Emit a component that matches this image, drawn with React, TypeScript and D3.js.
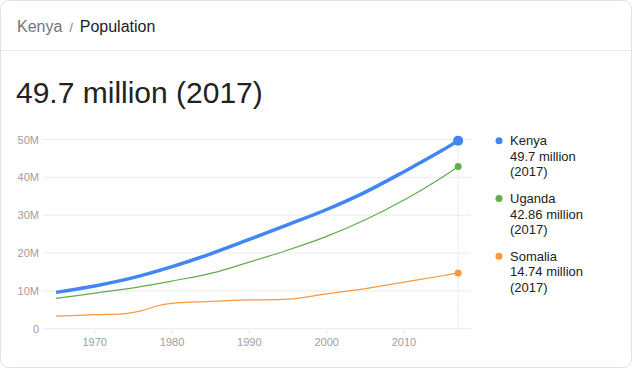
import React from 'react';
import * as d3 from 'd3';

const kenyaYears = [1965, 1970, 1975, 1980, 1985, 1990, 1995, 2000, 2005, 2010, 2015, 2017];
const kenyaValues = [9.6, 11.3, 13.5, 16.4, 19.8, 23.6, 27.5, 31.5, 36.1, 41.5, 47.2, 49.7];

const ugandaYears = [1965, 1970, 1975, 1980, 1985, 1990, 1995, 2000, 2005, 2010, 2015, 2017];
const ugandaValues = [8.0, 9.4, 10.8, 12.6, 14.6, 17.6, 20.8, 24.4, 28.8, 34.0, 40.1, 42.86];

const somaliaYears = [1965, 1970, 1974, 1976, 1978, 1980, 1985, 1990, 1995, 2000, 2005, 2010, 2015, 2017];
const somaliaValues = [3.3, 3.7, 4.0, 4.7, 6.0, 6.7, 7.2, 7.6, 7.8, 9.2, 10.6, 12.3, 14.0, 14.74];

const yTicks = [0, 10, 20, 30, 40, 50];
const xTicks = [1970, 1980, 1990, 2000, 2010];

const series = [
  { name: 'Kenya', value: '49.7 million', year: '(2017)', color: '#4285f4', years: kenyaYears, values: kenyaValues, width: 3.5, r: 5 },
  { name: 'Uganda', value: '42.86 million', year: '(2017)', color: '#5fad4e', years: ugandaYears, values: ugandaValues, width: 1.2, r: 3.5 },
  { name: 'Somalia', value: '14.74 million', year: '(2017)', color: '#fa9a3c', years: somaliaYears, values: somaliaValues, width: 1.2, r: 3.5 },
];

const font = 'Arial, "Liberation Sans", sans-serif';

function App() {
  const x = d3.scaleLinear().domain([1970, 2010]).range([94.7, 404]);
  const y = d3.scaleLinear().domain([0, 50]).range([328.7, 139.5]);
  const left = 43;
  const right = 471;
  const lastX = x(2017);

  const line = d3
    .line<[number, number]>()
    .x((d) => x(d[0]))
    .y((d) => y(d[1]))
    .curve(d3.curveCatmullRom.alpha(0.5));

  return (
    <svg width={633} height={370} style={{ position: 'absolute', left: 0, top: 0, fontFamily: font }}>
      <rect x={0.5} y={0.5} width={631} height={367} rx={8} fill="#fff" stroke="#dfe1e5" />
      <line x1={1} x2={632} y1={50.5} y2={50.5} stroke="#ebebeb" />
      <text x={17} y={32} fontSize={16}>
        <tspan fill="#70757a">Kenya</tspan>
        <tspan fill="#70757a" fontSize={12} dx={7}>/</tspan>
        <tspan fill="#222" dx={7}>Population</tspan>
      </text>
      <text x={16} y={103} fontSize={30} fill="#222">49.7 million (2017)</text>

      {yTicks.map((t) => (
        <g key={t}>
          <line x1={left} x2={right} y1={y(t)} y2={y(t)} stroke="#ebebeb" />
          <text x={39} y={y(t) + 4} fontSize={11} fill="#9e9e9e" textAnchor="end">
            {t === 0 ? '0' : `${t}M`}
          </text>
        </g>
      ))}
      {xTicks.map((t) => (
        <g key={t}>
          <line x1={x(t)} x2={x(t)} y1={y(0)} y2={y(0) + 6} stroke="#ebebeb" />
          <text x={x(t)} y={346} fontSize={11} fill="#9e9e9e" textAnchor="middle">{t}</text>
        </g>
      ))}
      <line x1={lastX} x2={lastX} y1={y(50)} y2={y(0)} stroke="#cfcfcf" strokeDasharray="1,2" />

      {series
        .slice()
        .reverse()
        .map((s) => {
          const pts = s.years.map((yr, i) => [yr, s.values[i]] as [number, number]);
          const last = pts[pts.length - 1];
          return (
            <g key={s.name}>
              <path d={line(pts) ?? ''} fill="none" stroke={s.color} strokeWidth={s.width} />
              <circle cx={x(last[0])} cy={y(last[1])} r={s.r} fill={s.color} />
            </g>
          );
        })}

      {series.map((s, i) => {
        const top = 140.7 + i * 57.8;
        return (
          <g key={s.name}>
            <circle cx={499} cy={top} r={3.5} fill={s.color} />
            <text x={510} y={top + 4.5} fontSize={13} fill="#222">
              <tspan x={510}>{s.name}</tspan>
              <tspan x={510} dy={15.5}>{s.value}</tspan>
              <tspan x={510} dy={15.5}>{s.year}</tspan>
            </text>
          </g>
        );
      })}
    </svg>
  );
}

export default App;
